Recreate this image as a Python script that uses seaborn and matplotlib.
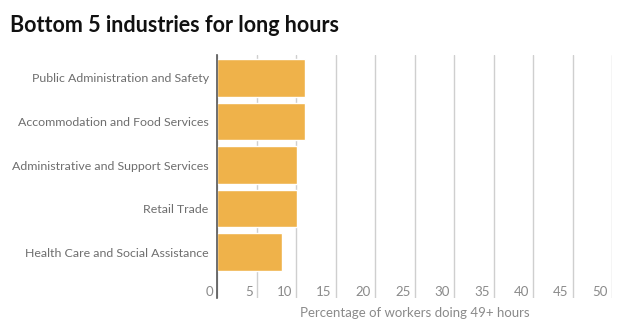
import matplotlib
matplotlib.use("Agg")
import matplotlib.pyplot as plt
import matplotlib.transforms as mtransforms
import seaborn as sns
import pandas as pd

industries = [
    "Public Administration and Safety",
    "Accommodation and Food Services",
    "Administrative and Support Services",
    "Retail Trade",
    "Health Care and Social Assistance",
]
pct_long_hours = [11.1, 11.1, 10.1, 10.1, 8.2]
x_ticks = [0, 5, 10, 15, 20, 25, 30, 35, 40, 45, 50]

df = pd.DataFrame({"industry": industries, "pct": pct_long_hours})

sns.set_theme(style="white")
plt.rcParams["font.family"] = ["Lato", "DejaVu Sans"]

fig = plt.figure(figsize=(6.24, 3.30), dpi=100)
ax = fig.add_axes([217 / 624, 1 - 298 / 330, (612 - 217) / 624, (298 - 55) / 330])

sns.barplot(data=df, x="pct", y="industry", orient="h", color="#EFB24A",
            saturation=1, width=0.87, ax=ax, zorder=3)

ax.set_xlim(0, 50)
ax.set_ylim(5.054, -0.526)

# vertical gridlines running through the tick-label band
ax.set_xticks(x_ticks)
ax.set_xticklabels([str(v) for v in x_ticks])
ax.grid(axis="x", color="#cfcfcf", linewidth=1, zorder=0)
ax.grid(axis="y", visible=False)
ax.tick_params(axis="x", length=0, pad=-8.5, labelsize=9.5, labelcolor="#8a8a8a")
shift = mtransforms.ScaledTranslation(-4 / 100, 0, fig.dpi_scale_trans)
for lbl in ax.get_xticklabels():
    lbl.set_horizontalalignment("right")
    lbl.set_transform(lbl.get_transform() + shift)

ax.tick_params(axis="y", length=0, pad=6, labelsize=8.9, labelcolor="#6e6e6e")

for side in ["top", "right", "bottom"]:
    ax.spines[side].set_visible(False)
ax.spines["left"].set_color("#555555")
ax.spines["left"].set_linewidth(1.2)
ax.spines["left"].set_zorder(4)

ax.set_ylabel("")
ax.set_xlabel("Percentage of workers doing 49+ hours", fontsize=9.5,
              color="#8a8a8a", labelpad=6)

fig.text(10 / 624, 1 - 25 / 330, "Bottom 5 industries for long hours",
         fontsize=15.5, fontweight="bold", color="#111111", va="center", ha="left")

fig.savefig("out.png", dpi=100, facecolor="white")
